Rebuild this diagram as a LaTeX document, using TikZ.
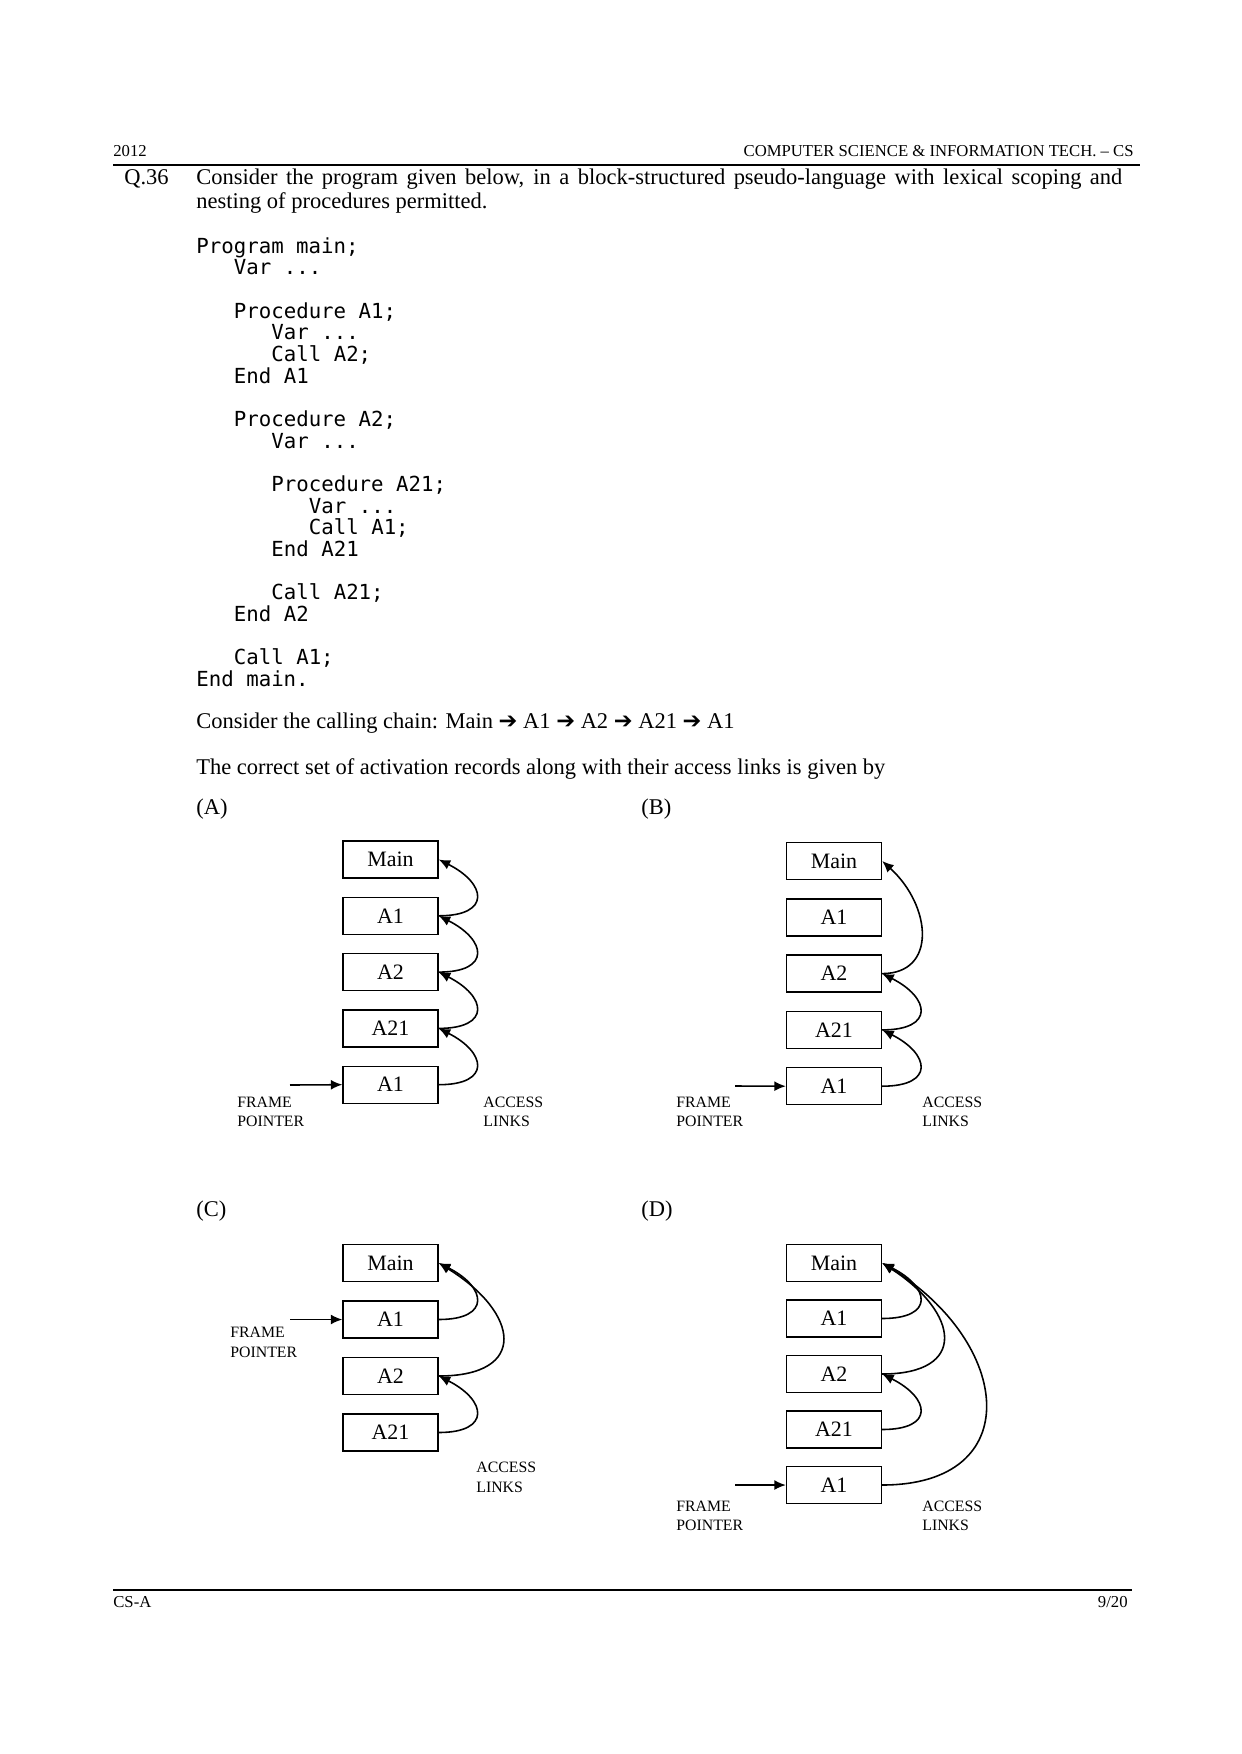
\documentclass[tikz,border=0pt]{standalone}
\usepackage{fontspec}
\setmainfont{Liberation Serif}
\setmonofont{DejaVu Sans Mono}
\newfontfamily\arrfont{DejaVu Sans}
\usetikzlibrary{arrows.meta,calc}
\newcommand{\ra}{{\arrfont ➔}}
\begin{document}
\begin{tikzpicture}[x=0.2mm,y=-0.2mm,
  rec/.style={draw,line width=0.8pt,minimum width=19mm,minimum height=7.4mm,inner sep=0pt,font=\fontsize{12.5}{14}\selectfont},
  lnk/.style={line width=0.9pt,-{Latex[length=2.3mm,width=2mm]}},
  lab/.style={anchor=base west,inner sep=0pt,font=\fontsize{9}{10}\selectfont},
  txt/.style={anchor=base west,inner sep=0pt,font=\fontsize{12.8}{14}\selectfont},
  code/.style={anchor=base west,inner sep=0pt,font=\ttfamily\fontsize{11.8}{12}\selectfont}]
\useasboundingbox (0,0) rectangle (1241,1754);
% header / footer
\node[lab,font=\fontsize{9.5}{10}\selectfont] (yr) at (113,156) {2012};
\node[anchor=base east,inner sep=0pt,font=\fontsize{9.5}{10}\selectfont] (hd) at (1134,156) {COMPUTER SCIENCE \& INFORMATION TECH. -- CS};
\draw[line width=0.6pt] (113,165) -- (1140,165);
\draw[line width=0.6pt] (113,1590) -- (1132,1590);
\node[lab,font=\fontsize{9.5}{10}\selectfont] (ft) at (113,1607) {CS-A};
\node[anchor=base east,inner sep=0pt,font=\fontsize{9.5}{10}\selectfont] (pg) at (1128,1607) {9/20};
% question
\node[txt] (q) at (124,184) {Q.36};
\node[txt] (l1) at (196,184) {\makebox[185.2mm][s]{Consider the program given below, in a block-structured pseudo-language with lexical scoping and}};
\node[txt] (l2) at (196,208) {nesting of procedures permitted.};
% code
\foreach \i/\ind/\t in {0/0/{Program main;},1/3/{Var ...},3/3/{Procedure A1;},4/6/{Var ...},5/6/{Call A2;},6/3/{End A1},
  8/3/{Procedure A2;},9/6/{Var ...},11/6/{Procedure A21;},12/9/{Var ...},13/9/{Call A1;},14/6/{End A21},
  16/6/{Call A21;},17/3/{End A2},19/3/{Call A1;},20/0/{End main.}}
  \node[code] (c\i) at ({196+12.5*\ind},{253+21.68*\i}) {\t};
\node[txt] (ch) at (196,728) {Consider the calling chain: Main \ra\ A1 \ra\ A2 \ra\ A21 \ra\ A1};
\node[txt] (cs) at (196,774) {The correct set of activation records along with their access links is given by};
\node[txt] (oa) at (196,814) {(A)};
\node[txt] (ob) at (641,814) {(B)};
\node[txt] (oc) at (196,1216) {(C)};
\node[txt] (od) at (641,1216) {(D)};
% helper
\newcommand{\lk}[4]{\draw[lnk] (#1.east) .. controls +(#3,0) and ($(#2.east)+(0.9*#3,#4)$) .. (#2.east);}
% ---------- A
\foreach \n/\t/\k in {am/Main/0,aa/A1/1,ab/A2/2,ac/A21/3,ad/A1/4}
  \node[rec] (\n) at (390.5,{859.5+56.3*\k}) {\t};
\lk{aa}{am}{53}{24}
\lk{ab}{aa}{53}{24}
\lk{ac}{ab}{53}{24}
\lk{ad}{ac}{53}{24}
\coordinate (afp) at (290,1085);
\draw[lnk] (afp) -- (ad.west);
\node[lab] (af1) at (237,1107) {FRAME};
\node[lab] (af2) at (237,1126) {POINTER};
\node[lab] (al1) at (483,1107) {ACCESS};
\node[lab] (al2) at (483,1126) {LINKS};
% ---------- B
\foreach \n/\t/\k in {bm/Main/0,ba/A1/1,bb/A2/2,bc/A21/3,bd/A1/4}
  \node[rec] (\n) at (834,{861+56.3*\k}) {\t};
\lk{bb}{bm}{55}{45}
\lk{bc}{bb}{53}{24}
\lk{bd}{bc}{53}{24}
\coordinate (bfp) at (735,1086);
\draw[lnk] (bfp) -- (bd.west);
\node[lab] (bf1) at (676,1107) {FRAME};
\node[lab] (bf2) at (676,1126) {POINTER};
\node[lab] (bl1) at (922,1107) {ACCESS};
\node[lab] (bl2) at (922,1126) {LINKS};
% ---------- C
\foreach \n/\t/\k in {cm/Main/0,ca/A1/1,cb/A2/2,cc/A21/3}
  \node[rec] (\n) at (390.5,{1263+56.5*\k}) {\t};
\lk{ca}{cm}{53}{24}
\lk{cb}{cm}{90}{50}
\lk{cc}{cb}{53}{24}
\coordinate (cfp) at (290,1319.5);
\draw[lnk] (cfp) -- (ca.west);
\node[lab] (cf1) at (230,1337) {FRAME};
\node[lab] (cf2) at (230,1357) {POINTER};
\node[lab] (cl1) at (476,1472) {ACCESS};
\node[lab] (cl2) at (476,1492) {LINKS};
% ---------- D
\foreach \n/\t/\k in {dm/Main/0,da/A1/1,db/A2/2,dc/A21/3,dd/A1/4}
  \node[rec] (\n) at (834,{1263+55.5*\k}) {\t};
\lk{da}{dm}{53}{24}
\lk{db}{dm}{86}{50}
\lk{dd}{dm}{145}{80}
\lk{dc}{db}{53}{24}
\coordinate (dfp) at (735,1485);
\draw[lnk] (dfp) -- (dd.west);
\node[lab] (df1) at (676,1511) {FRAME};
\node[lab] (df2) at (676,1530) {POINTER};
\node[lab] (dl1) at (922,1511) {ACCESS};
\node[lab] (dl2) at (922,1530) {LINKS};
\end{tikzpicture}
\end{document}
